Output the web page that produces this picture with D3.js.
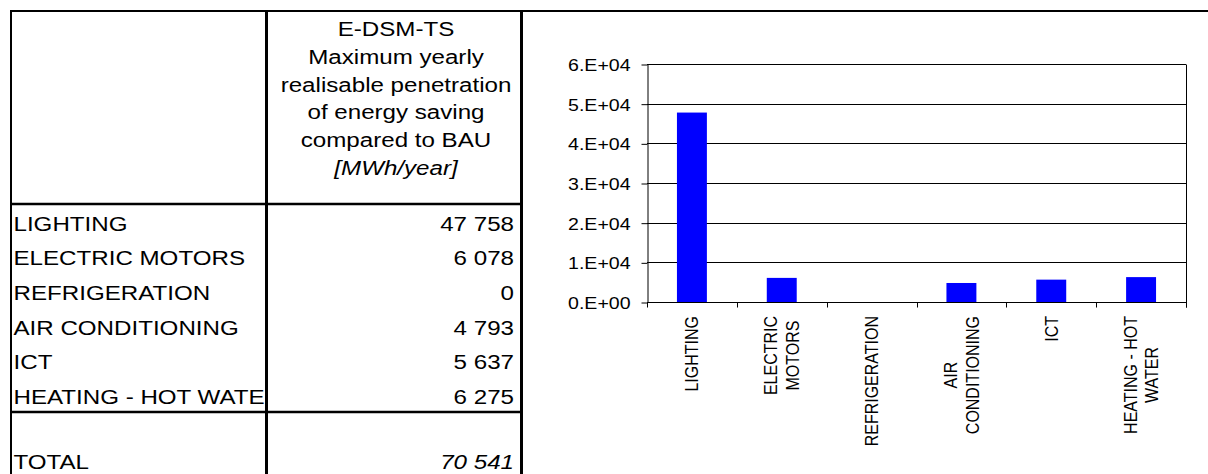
<!DOCTYPE html>
<html><head><meta charset="utf-8">
<script src="https://cdn.jsdelivr.net/npm/d3@7"></script>
<style>
body{margin:0;background:#fff}
svg{display:block}
text{font-family:"Liberation Sans",Arial,sans-serif;fill:#000}
</style>
</head><body>
<svg id="c" width="1208" height="474"></svg>
<script>
// ---- data ----
const categories = ["LIGHTING","ELECTRIC MOTORS","REFRIGERATION","AIR CONDITIONING","ICT","HEATING - HOT WATER"];
const savings = [47758, 6078, 0, 4793, 5637, 6275];
const axisLabelLines = [["LIGHTING"],["ELECTRIC","MOTORS"],["REFRIGERATION"],["AIR","CONDITIONING"],["ICT"],["HEATING - HOT","WATER"]];
const yTicks = [0, 10000, 20000, 30000, 40000, 50000, 60000];
const headerLines = ["E-DSM-TS","Maximum yearly","realisable penetration","of energy saving","compared to BAU","[MWh/year]"];
const totalLabel = "TOTAL";

// ---- layout ----
const SX = 1.15;            // horizontal stretch of the reference rendering
const svg = d3.select("#c");
const fmtNum = v => d3.format(",")(v).replace(/,/g, " ");

function stext(parent, x, y, str, opts = {}) {
  const g = parent.append("g").attr("transform", `translate(${x},${y}) scale(${SX},1)`);
  const t = g.append("text").text(str)
    .attr("font-size", opts.size || 21)
    .attr("text-anchor", opts.anchor || "start");
  if (opts.italic) t.attr("font-style", "italic");
  return t;
}

// ---- table ----
const tbl = svg.append("g");
const T = {left: 11, col: 266.5, right: 521.5, top: 11, head: 204, rowsEnd: 412, bottom: 474};
const rowY = d3.scaleBand().domain(categories).range([T.head, T.rowsEnd]);

svg.append("defs").append("clipPath").attr("id", "col1")
  .append("rect").attr("x", 0).attr("y", 0).attr("width", T.col - 1.5).attr("height", 474);

// header text
const headY = d3.scaleLinear().domain([0, headerLines.length - 1]).range([36, 175]);
headerLines.forEach((l, i) => {
  stext(tbl, (T.col + T.right) / 2 + 2, headY(i), l, {anchor: "middle", italic: i === headerLines.length - 1});
});

// rows
const rowsG = tbl.append("g").attr("clip-path", "url(#col1)");
categories.forEach((c, i) => {
  const by = rowY(c) + rowY.bandwidth() - 8;
  stext(rowsG, 13.5, by, c);
  stext(tbl, 514, by, fmtNum(savings[i]), {anchor: "end"});
});
stext(tbl, 13.5, 469, totalLabel);
stext(tbl, 514, 469, fmtNum(d3.sum(savings)), {anchor: "end", italic: true});

// lines
const ln = (x1, y1, x2, y2, w) => tbl.append("line").attr("x1", x1).attr("y1", y1).attr("x2", x2).attr("y2", y2)
  .attr("stroke", "#000").attr("stroke-width", w);
ln(10, T.top, 1208, T.top, 2);
ln(T.left, T.top - 1, T.left, T.bottom, 2);
ln(T.col, T.top - 1, T.col, T.bottom, 3);
ln(T.right, T.top - 1, T.right, T.bottom, 3);
ln(T.left, T.head, T.right, T.head, 2.5);
ln(T.left, T.rowsEnd, T.right, T.rowsEnd, 2.5);

// ---- chart ----
const P = {left: 647, right: 1186, top: 64, bottom: 302};
const chart = svg.append("g");
const y = d3.scaleLinear().domain([0, 60000]).range([P.bottom, P.top]);
const xCat = d3.scaleBand().domain(categories).range([P.left, P.right]);
const xBar = d3.scaleBand().domain(categories).range([P.left, P.right]).paddingInner(2/3).paddingOuter(1/3);

const crisp = v => Math.round(v) + 0.5;

// gridlines
chart.append("g").selectAll("line").data(yTicks).join("line")
  .attr("x1", P.left).attr("x2", P.right)
  .attr("y1", d => crisp(y(d))).attr("y2", d => crisp(y(d)))
  .attr("stroke", "#000").attr("stroke-width", 1);
// right border
chart.append("line").attr("x1", crisp(P.right)).attr("x2", crisp(P.right))
  .attr("y1", crisp(y(60000))).attr("y2", crisp(y(0)) + 5).attr("stroke", "#000");

// bars
chart.append("g").selectAll("rect").data(categories).join("rect")
  .attr("x", d => xBar(d)).attr("width", xBar.bandwidth())
  .attr("y", (d, i) => y(savings[i])).attr("height", (d, i) => y(0) - y(savings[i]))
  .attr("fill", "#0000ff");

// y axis
const expFmt = d => {
  const e = d === 0 ? 0 : Math.floor(Math.log10(d));
  const m = d / Math.pow(10, e);
  return `${m}.E+${String(e).padStart(2, "0")}`;
};
const yAx = chart.append("g").attr("transform", `translate(${crisp(P.left)},0.5)`)
  .call(d3.axisLeft(y).tickValues(yTicks).tickFormat(expFmt).tickSize(6).tickSizeOuter(0));
yAx.select(".domain").attr("stroke", "#000");
yAx.selectAll(".tick line").attr("stroke", "#000");
yAx.selectAll(".tick text")
  .attr("x", 0).attr("dy", "0.36em")
  .attr("transform", `translate(-17,0) scale(${SX},1)`)
  .attr("font-size", 17).attr("font-family", "Liberation Sans, Arial, sans-serif").attr("fill", "#000");

// x axis line & ticks at category boundaries
chart.append("line").attr("x1", P.left).attr("x2", P.right)
  .attr("y1", crisp(y(0))).attr("y2", crisp(y(0))).attr("stroke", "#000");
const bounds = categories.map(c => xCat(c)).concat([xCat(categories[categories.length - 1]) + xCat.bandwidth()]);
chart.append("g").selectAll("line").data(bounds).join("line")
  .attr("x1", d => crisp(d)).attr("x2", d => crisp(d))
  .attr("y1", crisp(y(0))).attr("y2", crisp(y(0)) + 5).attr("stroke", "#000");

// x labels (rotated, block top-aligned, lines centered)
const labTop = 316, lh = 19, xfs = 16;
categories.forEach((c, i) => {
  const lines = axisLabelLines[i];
  const g = chart.append("g").attr("transform", `translate(${xCat(c) + xCat.bandwidth() / 2},${labTop}) scale(${SX},1) rotate(-90)`);
  const ts = lines.map((l, k) => g.append("text").text(l).attr("font-size", xfs)
    .attr("text-anchor", "middle").attr("dominant-baseline", "central")
    .attr("y", (k - (lines.length - 1) / 2) * lh));
  const maxLen = d3.max(ts, t => t.node().getComputedTextLength());
  ts.forEach(t => t.attr("x", -maxLen / 2));
});
</script>
</body></html>
